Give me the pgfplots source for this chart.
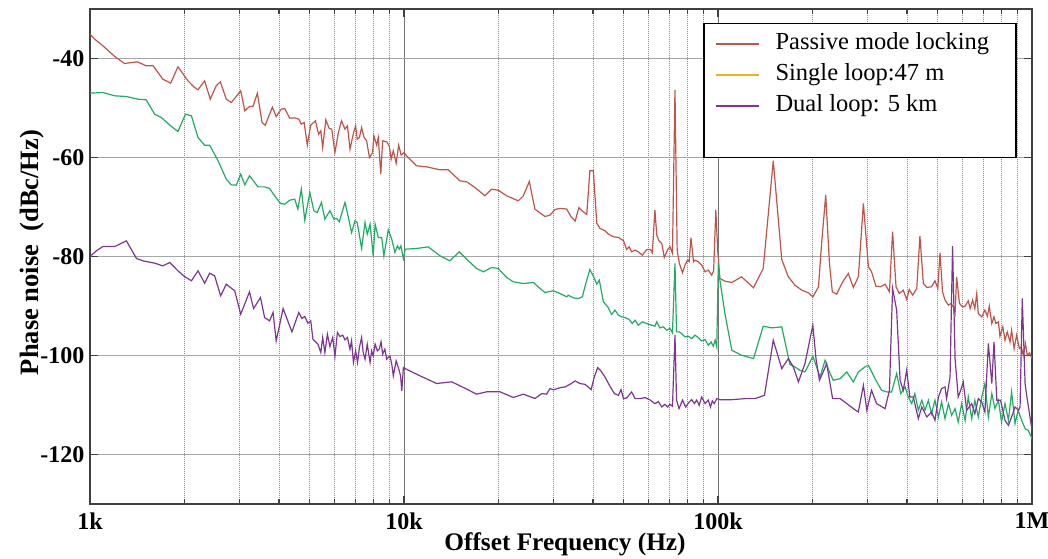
\documentclass[border=0pt]{standalone}
\usepackage{pgfplots}
\pgfplotsset{compat=1.18}
\usepackage{pgfplotstable}
\usepackage{fontspec}
\setmainfont{Liberation Serif}
\definecolor{pmred}{RGB}{190,85,75}
\definecolor{slgreen}{RGB}{35,170,100}
\definecolor{slyellow}{RGB}{230,180,40}
\definecolor{dlpurple}{RGB}{125,55,145}

% columns: lf = log10(offset frequency / Hz), pn = phase noise (dBc/Hz)
\pgfplotstableread{
lf pn
3.000 -35.08
3.015 -36.09
3.041 -37.44
3.079 -39.60
3.110 -41.01
3.132 -40.81
3.151 -40.67
3.179 -41.48
3.201 -41.48
3.232 -44.18
3.257 -44.98
3.280 -41.68
3.312 -44.51
3.333 -45.86
3.344 -46.33
3.365 -44.51
3.383 -48.22
3.402 -45.52
3.415 -44.71
3.434 -48.22
3.450 -48.89
3.480 -46.53
3.493 -50.57
3.508 -49.70
3.519 -49.70
3.533 -47.00
3.548 -52.93
3.558 -53.47
3.581 -49.83
3.593 -51.72
3.609 -50.24
3.620 -50.10
3.636 -52.05
3.652 -51.99
3.665 -52.26
3.673 -53.27
3.682 -52.93
3.692 -57.51
3.703 -53.47
3.718 -52.59
3.728 -55.29
3.735 -54.61
3.741 -57.98
3.751 -52.39
3.762 -54.14
3.770 -54.28
3.780 -58.99
3.791 -54.95
3.801 -52.59
3.812 -54.28
3.820 -53.60
3.828 -58.32
3.839 -55.08
3.846 -53.60
3.851 -56.30
3.858 -55.96
3.865 -53.94
3.873 -55.96
3.881 -56.63
3.890 -60.00
3.900 -58.99
3.904 -55.62
3.913 -57.51
3.918 -55.96
3.926 -63.37
3.932 -56.63
3.945 -56.84
3.953 -57.64
3.959 -60.34
3.966 -58.65
3.975 -61.15
3.983 -57.51
3.991 -59.53
4.000 -58.99
4.008 -59.66
4.040 -61.68
4.072 -61.89
4.115 -62.49
4.141 -62.49
4.178 -64.71
4.200 -64.92
4.226 -66.06
4.258 -67.74
4.279 -66.40
4.300 -66.60
4.327 -67.74
4.364 -68.75
4.380 -67.74
4.399 -64.85
4.417 -70.44
4.449 -71.92
4.465 -71.65
4.481 -70.50
4.497 -70.28
4.518 -70.41
4.532 -71.96
4.545 -72.84
4.557 -70.14
4.568 -70.82
4.582 -71.49
4.592 -62.66
4.603 -62.66
4.614 -73.31
4.624 -74.32
4.640 -74.79
4.651 -75.47
4.667 -76.01
4.683 -76.14
4.699 -76.82
4.709 -78.57
4.717 -78.03
4.725 -79.04
4.736 -78.71
4.746 -79.04
4.759 -79.72
4.773 -78.57
4.784 -78.57
4.791 -79.24
4.799 -70.61
4.805 -75.67
4.812 -76.82
4.821 -77.36
4.829 -80.19
4.840 -78.57
4.847 -78.03
4.855 -79.38
4.863 -46.34
4.870 -78.71
4.877 -81.40
4.887 -83.29
4.895 -81.74
4.903 -80.73
4.908 -81.06
4.914 -76.21
4.922 -81.06
4.927 -80.73
4.937 -81.06
4.948 -81.74
4.959 -83.09
4.969 -82.75
4.980 -83.76
4.986 -82.89
4.993 -70.61
4.999 -78.71
5.006 -84.44
5.022 -84.98
5.044 -85.25
5.075 -84.10
5.113 -86.32
5.144 -82.41
5.176 -60.63
5.203 -80.59
5.224 -84.10
5.245 -85.79
5.267 -86.80
5.288 -87.34
5.302 -88.15
5.320 -86.12
5.330 -77.36
5.343 -67.58
5.355 -81.40
5.364 -87.13
5.378 -87.61
5.397 -85.11
5.415 -83.43
5.431 -86.26
5.447 -84.10
5.463 -69.26
5.479 -82.08
5.489 -83.09
5.503 -85.99
5.518 -86.12
5.532 -85.58
5.546 -87.13
5.556 -75.00
5.567 -86.12
5.577 -87.47
5.590 -86.80
5.601 -88.69
5.609 -86.66
5.620 -87.81
5.633 -86.46
5.643 -75.87
5.654 -85.45
5.665 -86.26
5.680 -86.12
5.691 -84.91
5.700 -86.46
5.707 -79.24
5.715 -87.13
5.723 -88.82
5.734 -89.83
5.742 -89.49
5.749 -90.17
5.755 -91.52
5.760 -84.10
5.769 -89.49
5.779 -90.17
5.787 -90.03
5.797 -88.96
5.803 -90.51
5.811 -88.82
5.818 -90.51
5.824 -87.47
5.829 -91.52
5.840 -92.19
5.850 -90.84
5.858 -92.06
5.864 -90.03
5.872 -93.54
5.879 -92.19
5.885 -93.54
5.893 -93.20
5.898 -96.10
5.907 -94.21
5.914 -96.91
5.921 -95.23
5.930 -97.25
5.935 -94.89
5.943 -98.60
5.951 -95.90
5.960 -98.60
5.966 -98.26
5.972 -99.95
5.979 -97.58
5.985 -99.95
5.992 -99.47
6.000 -100.62
}\passive

\pgfplotstableread{
lf pn
3.000 -47.00
3.041 -46.87
3.079 -47.54
3.116 -47.68
3.153 -48.22
3.179 -48.35
3.206 -51.25
3.227 -51.92
3.257 -53.60
3.280 -54.75
3.304 -51.25
3.323 -51.58
3.344 -55.96
3.365 -57.51
3.381 -57.51
3.408 -60.67
3.434 -64.38
3.450 -65.52
3.466 -65.59
3.480 -63.37
3.493 -65.52
3.508 -63.70
3.535 -65.93
3.556 -65.93
3.572 -66.26
3.588 -67.74
3.607 -69.29
3.620 -69.43
3.636 -68.62
3.652 -68.42
3.662 -70.44
3.673 -66.40
3.684 -72.66
3.700 -67.07
3.713 -70.77
3.724 -71.11
3.737 -69.09
3.748 -72.46
3.764 -70.77
3.777 -72.46
3.786 -72.32
3.794 -72.99
3.812 -69.09
3.823 -72.12
3.833 -75.15
3.844 -72.79
3.851 -73.13
3.865 -78.38
3.876 -73.13
3.883 -75.49
3.892 -73.47
3.902 -79.87
3.908 -73.47
3.918 -76.16
3.929 -76.16
3.936 -79.87
3.950 -74.61
3.961 -76.50
3.971 -79.19
3.979 -77.85
3.985 -78.52
3.990 -77.85
3.998 -80.40
4.004 -78.52
4.040 -78.38
4.077 -78.05
4.115 -79.87
4.146 -80.88
4.176 -79.06
4.205 -80.88
4.231 -82.42
4.253 -83.10
4.279 -82.22
4.300 -82.42
4.327 -84.24
4.348 -85.12
4.380 -85.45
4.412 -85.25
4.433 -86.46
4.449 -87.27
4.476 -86.94
4.497 -87.47
4.518 -88.15
4.523 -87.81
4.539 -88.35
4.555 -88.49
4.568 -88.15
4.579 -85.45
4.592 -82.62
4.603 -83.96
4.614 -85.58
4.622 -84.77
4.635 -89.16
4.649 -90.17
4.661 -91.72
4.672 -90.84
4.683 -91.85
4.693 -92.19
4.704 -92.33
4.717 -92.73
4.727 -93.54
4.736 -92.87
4.746 -93.88
4.759 -93.20
4.773 -93.54
4.789 -93.88
4.799 -94.08
4.805 -93.20
4.815 -94.42
4.826 -94.21
4.837 -94.89
4.847 -94.55
4.855 -95.43
4.863 -81.40
4.868 -95.23
4.876 -95.23
4.884 -95.56
4.895 -96.24
4.906 -96.10
4.916 -96.57
4.927 -95.90
4.937 -96.37
4.948 -97.05
4.959 -96.78
4.969 -97.92
4.978 -97.25
4.985 -98.13
4.991 -96.91
4.996 -98.26
5.001 -81.40
5.006 -84.77
5.022 -91.52
5.044 -98.94
5.075 -99.95
5.113 -100.62
5.144 -94.08
5.171 -94.42
5.203 -94.21
5.229 -101.80
5.245 -102.31
5.261 -102.98
5.277 -103.32
5.288 -101.97
5.302 -100.15
5.314 -102.31
5.325 -104.33
5.341 -100.96
5.357 -103.65
5.367 -105.00
5.389 -104.67
5.410 -103.32
5.431 -105.34
5.447 -103.32
5.468 -102.31
5.479 -101.97
5.500 -104.67
5.521 -107.03
5.539 -107.37
5.553 -107.37
5.569 -103.65
5.582 -107.70
5.596 -106.35
5.606 -108.38
5.617 -109.72
5.627 -107.70
5.638 -111.07
5.649 -109.05
5.659 -111.07
5.670 -109.05
5.680 -111.75
5.691 -109.05
5.702 -112.42
5.712 -109.39
5.723 -112.76
5.734 -109.72
5.744 -112.08
5.755 -110.73
5.765 -113.43
5.776 -109.72
5.787 -113.10
5.797 -108.38
5.808 -112.76
5.818 -109.05
5.829 -112.42
5.840 -108.38
5.850 -105.68
5.861 -112.42
5.872 -107.70
5.882 -110.73
5.893 -109.05
5.903 -113.43
5.914 -109.72
5.925 -113.10
5.935 -107.37
5.946 -113.77
5.956 -111.07
5.967 -113.10
5.978 -114.78
5.988 -115.12
6.000 -116.80
}\single

\pgfplotstableread{
lf pn
3.000 -80.00
3.020 -78.86
3.041 -77.98
3.079 -77.98
3.116 -76.84
3.148 -80.40
3.169 -80.88
3.206 -81.35
3.232 -81.89
3.254 -81.21
3.280 -82.89
3.301 -84.04
3.323 -84.91
3.344 -82.89
3.365 -85.39
3.381 -83.37
3.397 -83.91
3.416 -87.95
3.434 -85.59
3.461 -86.94
3.480 -91.65
3.508 -87.14
3.521 -90.51
3.543 -88.28
3.556 -92.32
3.572 -93.00
3.583 -91.31
3.593 -97.04
3.615 -90.51
3.643 -95.22
3.665 -91.31
3.675 -92.53
3.684 -92.12
3.694 -93.47
3.703 -93.00
3.710 -96.70
3.726 -97.71
3.735 -99.39
3.741 -96.36
3.748 -99.39
3.756 -95.69
3.764 -98.18
3.773 -96.36
3.780 -100.20
3.788 -95.35
3.796 -96.16
3.805 -95.89
3.812 -96.84
3.820 -96.36
3.828 -98.72
3.833 -97.04
3.839 -101.41
3.846 -99.06
3.852 -101.41
3.858 -98.38
3.865 -96.36
3.870 -99.39
3.876 -100.74
3.883 -97.71
3.892 -101.41
3.897 -99.06
3.902 -100.07
3.908 -97.71
3.915 -99.06
3.921 -98.72
3.927 -97.24
3.932 -99.73
3.939 -98.72
3.945 -100.74
3.955 -100.07
3.961 -101.75
3.966 -104.11
3.975 -101.08
3.982 -102.42
3.989 -104.11
3.993 -107.14
3.998 -102.42
4.003 -102.63
4.051 -104.11
4.104 -105.66
4.152 -105.32
4.200 -106.80
4.231 -107.81
4.263 -107.34
4.306 -107.34
4.348 -108.48
4.380 -107.81
4.417 -108.69
4.439 -107.68
4.454 -107.81
4.465 -106.67
4.476 -106.94
4.497 -106.49
4.513 -106.35
4.529 -105.81
4.545 -105.14
4.561 -105.68
4.576 -105.81
4.587 -106.35
4.596 -106.89
4.606 -104.33
4.617 -102.44
4.627 -103.12
4.640 -104.33
4.656 -106.22
4.670 -107.70
4.683 -108.04
4.691 -106.89
4.699 -108.71
4.709 -108.58
4.725 -107.37
4.736 -108.71
4.752 -108.71
4.768 -108.51
4.784 -108.99
4.799 -109.72
4.810 -109.33
4.821 -110.40
4.831 -109.86
4.840 -110.40
4.847 -109.86
4.855 -110.26
4.863 -95.90
4.868 -108.99
4.876 -110.73
4.887 -108.99
4.897 -110.40
4.906 -109.59
4.916 -108.92
4.925 -109.72
4.932 -108.99
4.940 -110.06
4.948 -108.38
4.959 -109.72
4.969 -108.99
4.976 -110.40
4.982 -109.18
4.988 -109.72
4.996 -108.71
5.006 -108.92
5.044 -108.92
5.086 -108.71
5.118 -108.71
5.148 -108.04
5.176 -96.91
5.203 -102.64
5.224 -100.62
5.240 -102.31
5.256 -105.34
5.277 -101.63
5.302 -93.88
5.312 -100.62
5.323 -105.00
5.335 -103.32
5.346 -101.63
5.365 -108.71
5.389 -108.71
5.410 -109.72
5.431 -110.73
5.447 -111.41
5.463 -106.02
5.474 -111.07
5.489 -107.03
5.505 -109.72
5.532 -110.73
5.546 -107.03
5.556 -86.46
5.569 -90.84
5.580 -105.00
5.590 -107.03
5.601 -102.98
5.611 -108.38
5.622 -108.38
5.638 -112.76
5.649 -110.40
5.665 -112.42
5.680 -111.41
5.691 -113.10
5.702 -108.38
5.712 -106.69
5.723 -106.35
5.728 -108.71
5.739 -104.33
5.747 -77.90
5.755 -100.62
5.765 -108.38
5.773 -107.03
5.781 -105.34
5.792 -111.07
5.808 -109.72
5.818 -111.75
5.829 -108.71
5.840 -109.39
5.850 -111.41
5.861 -97.58
5.872 -105.68
5.879 -97.25
5.888 -109.05
5.900 -109.05
5.914 -113.10
5.925 -114.11
5.935 -112.42
5.946 -110.40
5.957 -111.07
5.962 -110.40
5.969 -88.48
5.978 -105.68
5.983 -108.04
5.992 -111.75
6.000 -115.12
}\dual

\begin{document}
\begin{tikzpicture}
\useasboundingbox (0,0) rectangle (1048pt,558pt);
\begin{axis}[
  at={(90pt,54pt)}, anchor=south west,
  scale only axis, width=942pt, height=495pt,
  xmode=log, xmin=1000, xmax=1000000,
  ymin=-130, ymax=-30,
  xtick={1000,10000,100000,1000000},
  xticklabels={1k,10k,100k,1M},
  minor xtick={2000,3000,4000,5000,6000,7000,8000,9000,20000,30000,40000,50000,60000,70000,80000,90000,200000,300000,400000,500000,600000,700000,800000,900000},
  ytick={-120,-100,-80,-60,-40},
  yticklabels={-120,-100,-80,-60,-40},
  tick pos=both, tick align=inside,
  major tick length=8pt, minor tick length=5pt,
  every tick/.style={black!75, line width=1.2pt},
  xmajorgrids, xminorgrids, ymajorgrids,
  major x grid style={black!55, line width=0.8pt},
  minor x grid style={black!45, line width=0.8pt, dash pattern=on 1pt off 1pt},
  major y grid style={black!35, line width=1.6pt},
  axis line style={black!75, line width=1.6pt},
  ticklabel style={font=\fontsize{24}{28}\selectfont\bfseries},
  xticklabel style={yshift=-5pt},
  yticklabel style={xshift=-2pt},
  xlabel={Offset Frequency (Hz)},
  ylabel={Phase noise\ \ (dBc/Hz)},
  every axis x label/.style={at={(axis description cs:0.5,0)}, anchor=center, yshift=-40pt, xshift=4pt, font=\fontsize{25.3}{28}\selectfont\bfseries},
  every axis y label/.style={at={(axis description cs:-0.0615,0.508)}, anchor=center, rotate=90, font=\fontsize{26.5}{30}\selectfont\bfseries},
  legend style={at={(rel axis cs:0.984,0.972)}, anchor=north east, draw=black, line width=1.5pt,
    font=\fontsize{24.5}{28}\selectfont, inner xsep=11pt, inner ysep=6pt, row sep=2pt, column sep=14pt,
    nodes={text height=18pt, text depth=7pt}},
  legend cell align=left,
  legend image code/.code={\draw[#1, line width=1.3pt] (0pt,0pt) -- (43pt,0pt);},
]
\addlegendimage{pmred}
\addlegendentry{Passive mode locking\kern14pt}
\addlegendimage{slyellow}
\addlegendentry{Single loop:47 m}
\addlegendimage{dlpurple}
\addlegendentry{Dual loop: 5 km}
\addlegendimage{empty legend}
\addlegendentry{}
\addplot[pmred, line width=1.2pt, forget plot] table[x expr=10^\thisrow{lf}, y=pn] {\passive};
\addplot[slgreen, line width=1.2pt, forget plot] table[x expr=10^\thisrow{lf}, y=pn] {\single};
\addplot[dlpurple, line width=1.2pt, forget plot] table[x expr=10^\thisrow{lf}, y=pn] {\dual};
\end{axis}
\end{tikzpicture}
\end{document}
